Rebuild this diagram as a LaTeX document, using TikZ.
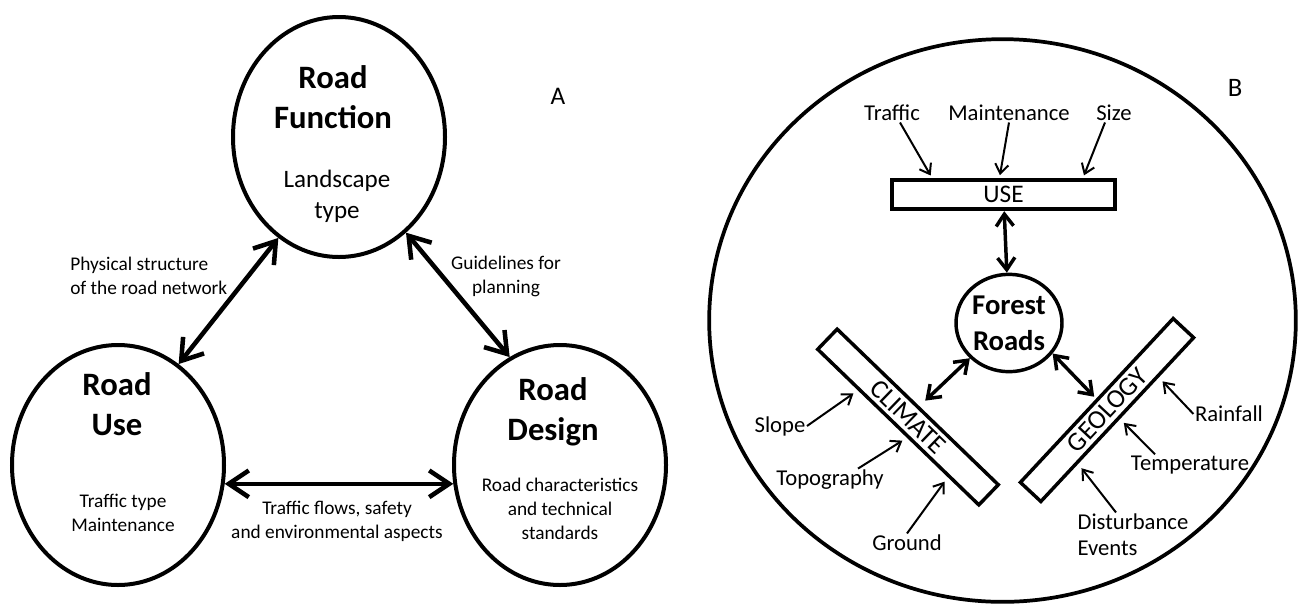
\documentclass[tikz,border=0pt]{standalone}
\usepackage{fontspec}
\setmainfont{Carlito}
\usetikzlibrary{arrows.meta,calc,positioning,shapes.geometric}

\tikzset{
  bubble/.style={draw,ellipse,line width=3pt,minimum width=159pt,minimum height=180pt},
  bubbletitle/.style={align=center,inner sep=0pt,font=\fontsize{24.5}{30}\selectfont\bfseries},
  bubbletext/.style={align=center,inner sep=0pt,font=\fontsize{14.5}{18}\selectfont},
  factor/.style={inner sep=1pt,font=\fontsize{17}{19.5}\selectfont},
  bar/.style={draw,rectangle,line width=2.6pt,minimum width=168pt,minimum height=21pt,inner sep=0pt,font=\fontsize{20}{24}\selectfont},
  bigarrow/.style={line width=3.4pt,{Straight Barb[length=15pt,width=20pt]}-{Straight Barb[length=15pt,width=20pt]}},
  midarrow/.style={line width=2.6pt,{Straight Barb[length=9pt,width=13pt]}-{Straight Barb[length=9pt,width=13pt]}},
  thinarrow/.style={line width=1.5pt,-{Straight Barb[length=7pt,width=10pt]}}
}

\begin{document}
\begin{tikzpicture}[x=0.75pt,y=-0.75pt]
\useasboundingbox (0,0) rectangle (1303,608);

% panel A
\node[bubble] (function) at (339,137) {};
\node[bubble] (use) at (118,465) {};
\node[bubble] (design) at (560,465) {};
\node[bubbletitle] (functiontitle) at (333,97) {Road\\Function};
\node[bubbletitle] (usetitle) at (117,404) {Road\\Use};
\node[bubbletitle] (designtitle) at (553,412) {Road\\Design};
\node[align=center,inner sep=0pt,font=\fontsize{18.8}{23}\selectfont] (functiontext) at (337,196) {Landscape\\type};
\node[bubbletext] (usetext) at (123,513) {Traffic type\\Maintenance};
\node[bubbletext] (designtext) at (560,509) {Road characteristics\\and technical\\standards};
\draw[bigarrow] (function.-121) -- (use.59);
\draw[bigarrow] (function.-55) -- (design.115);
\draw[bigarrow] (use.-10) -- (design.190);
\node[bubbletext,align=left,anchor=west] (physlabel) at (70,276) {Physical structure\\of the road network};
\node[bubbletext] (guidelabel) at (506,276) {Guidelines for\\planning};
\node[bubbletext] (flowlabel) at (337,521) {Traffic flows, safety\\and environmental aspects};
\node[font=\fontsize{19}{23}\selectfont] (labela) at (558,96) {A};

% panel B
\node[draw,ellipse,line width=2.8pt,minimum width=440pt,minimum height=422pt] (world) at (1002.5,320.5) {};
\node[font=\fontsize{20}{24}\selectfont] (labelb) at (1235,88) {B};
\node[bar,line width=3pt,minimum width=167pt,minimum height=22pt,font=\fontsize{19}{23}\selectfont] (usebox) at (1003.5,194.5) {USE};
\node[draw,ellipse,line width=2.6pt,minimum width=79.5pt,minimum height=73pt,inner sep=0pt,align=center,font=\fontsize{21.5}{27}\selectfont\bfseries] (forest) at (1009,323) {Forest\\Roads};
\node[bar,rotate=-44] (climate) at (908,417) {CLIMATE};
\node[bar,rotate=47] (geology) at (1107,410) {GEOLOGY};

\node[factor] (traffic) at (892,113) {Traffic};
\node[factor] (maint) at (1009,113) {Maintenance};
\node[factor] (size) at (1114,113) {Size};
\node[factor] (slope) at (780,426) {Slope};
\node[factor] (topo) at (830,480) {Topography};
\node[factor] (ground) at (907,543) {Ground};
\node[factor] (rain) at (1229,414) {Rainfall};
\node[factor] (temp) at (1190,465) {Temperature};
\node[factor,align=left,anchor=west] (dist) at (1076,535) {Disturbance\\Events};

\draw[midarrow] (usebox) -- (forest);
\draw[midarrow,shorten >=6pt] (forest.222) -- (climate);
\draw[midarrow,shorten >=2pt] (forest.-35) -- (geology);

\draw[thinarrow,shorten >=2pt] ($(traffic.south)+(8,0)$) -- ($(usebox.north)+(-71.5,0)$);
\draw[thinarrow,shorten >=2pt] (maint.south) -- ($(usebox.north)+(-4,0)$);
\draw[thinarrow,shorten >=2pt] ($(size.south)+(-9,0)$) -- ($(usebox.north)+(79.5,0)$);
\draw[thinarrow,shorten >=4pt] (slope.east) -- ($(climate.south west)!0.26!(climate.south east)$);
\draw[thinarrow,shorten >=4pt] ($(topo.north)+(28,0)$) -- ($(climate.south west)!0.56!(climate.south east)$);
\draw[thinarrow,shorten >=4pt] (ground.north) -- ($(climate.south west)!0.81!(climate.south east)$);
\draw[thinarrow,shorten >=4pt] (rain.west) -- ($(geology.south west)!0.76!(geology.south east)$);
\draw[thinarrow,shorten >=4pt] ($(temp.north)+(-35,0)$) -- ($(geology.south west)!0.51!(geology.south east)$);
\draw[thinarrow,shorten >=4pt] ($(dist.north west)+(40,0)$) -- ($(geology.south west)!0.24!(geology.south east)$);
\end{tikzpicture}
\end{document}
